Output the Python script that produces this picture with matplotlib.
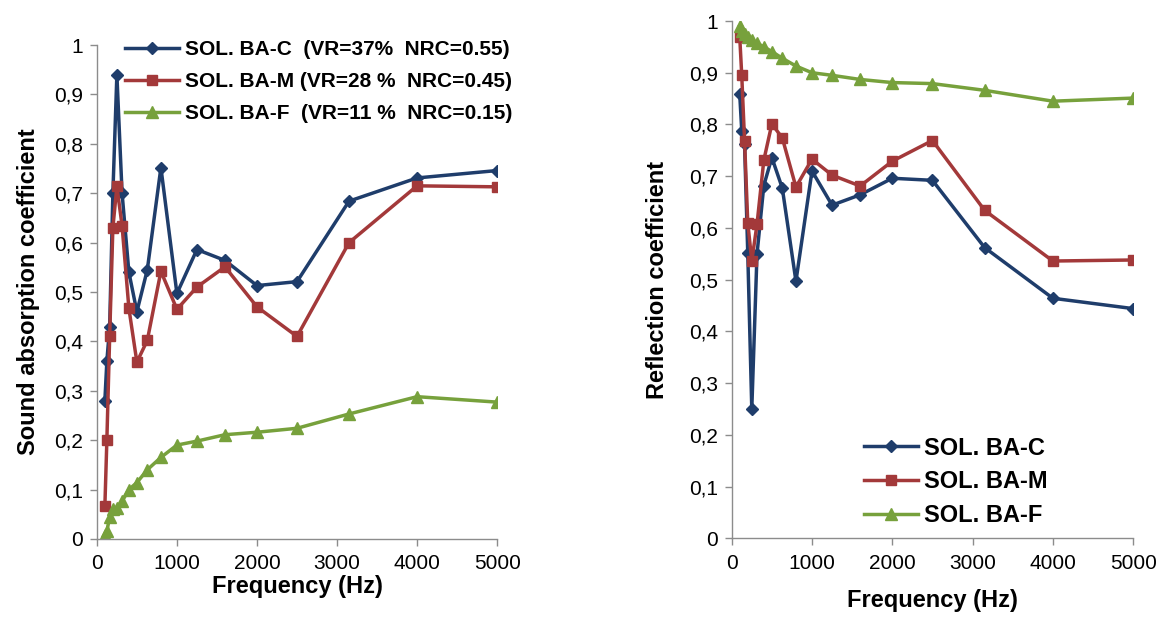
import matplotlib
matplotlib.use('Agg')
import matplotlib.pyplot as plt
from matplotlib.ticker import FuncFormatter

plt.rcParams['font.family'] = ['Liberation Sans', 'DejaVu Sans']

FREQS = [100, 125, 160, 200, 250, 315, 400, 500, 630, 800, 1000,
         1250, 1600, 2000, 2500, 3150, 4000, 5000]

# sound absorption coefficient
ABS_C = [0.28, 0.36, 0.43, 0.70, 0.94, 0.70, 0.54, 0.46, 0.545, 0.752, 0.497,
         0.586, 0.564, 0.513, 0.521, 0.684, 0.731, 0.746]
ABS_M = [0.066, 0.20, 0.41, 0.63, 0.714, 0.634, 0.467, 0.358, 0.402, 0.542, 0.465,
         0.51, 0.551, 0.47, 0.41, 0.60, 0.715, 0.713]
ABS_F = [0.008, 0.015, 0.045, 0.06, 0.063, 0.076, 0.10, 0.114, 0.14, 0.165, 0.19,
         0.198, 0.211, 0.216, 0.224, 0.253, 0.288, 0.277]

# reflection coefficient
REF_C = [0.858, 0.788, 0.762, 0.551, 0.25, 0.549, 0.682, 0.736, 0.677, 0.497, 0.71,
         0.644, 0.664, 0.696, 0.692, 0.562, 0.464, 0.444]
REF_M = [0.969, 0.895, 0.769, 0.61, 0.536, 0.607, 0.731, 0.801, 0.774, 0.679, 0.733,
         0.702, 0.681, 0.729, 0.769, 0.634, 0.536, 0.538]
REF_F = [0.99, 0.98, 0.975, 0.97, 0.964, 0.957, 0.95, 0.941, 0.928, 0.913, 0.90,
         0.895, 0.887, 0.881, 0.879, 0.866, 0.845, 0.851]

LABELS_ABS = ['SOL. BA-C  (VR=37%  NRC=0.55)',
              'SOL. BA-M (VR=28 %  NRC=0.45)',
              'SOL. BA-F  (VR=11 %  NRC=0.15)']
LABELS_REF = ['SOL. BA-C', 'SOL. BA-M', 'SOL. BA-F']

COLORS = ['#1f3d6b', '#a3393a', '#77a13c']
MARKERS = ['D', 's', '^']
MSIZES = [6.5, 7, 8.5]


def comma_fmt(v, _pos):
    if abs(v) < 1e-9:
        return '0'
    if abs(v - 1) < 1e-9:
        return '1'
    return f'{v:.1f}'.replace('.', ',')


def style_axes(ax, ylabel, xpad, ypad):
    ax.set_xlim(0, 5000)
    ax.set_ylim(0, 1)
    ax.set_xticks(range(0, 5001, 1000))
    ax.set_yticks([i / 10 for i in range(11)])
    ax.yaxis.set_major_formatter(FuncFormatter(comma_fmt))
    for side in ('top', 'right'):
        ax.spines[side].set_visible(False)
    for side in ('left', 'bottom'):
        ax.spines[side].set_color('#8c8c8c')
        ax.spines[side].set_linewidth(1.0)
    ax.tick_params(axis='both', colors='#8c8c8c', labelcolor='black',
                   labelsize=15, length=5, width=1.0)
    ax.tick_params(axis='y', pad=5)
    ax.tick_params(axis='x', pad=6)
    ax.set_xlabel('Frequency (Hz)', fontsize=17, fontweight='bold', labelpad=xpad)
    ax.set_ylabel(ylabel, fontsize=17, fontweight='bold', labelpad=ypad)


fig = plt.figure(figsize=(11.67, 6.18), dpi=100)
ax1 = fig.add_axes([0.083, 0.128, 0.343, 0.799])
ax2 = fig.add_axes([0.627, 0.129, 0.344, 0.837])

for series, lab, c, m, ms in zip([ABS_C, ABS_M, ABS_F], LABELS_ABS, COLORS, MARKERS, MSIZES):
    ax1.plot(FREQS, series, color=c, marker=m, markersize=ms, linewidth=2.5, label=lab)
for series, lab, c, m, ms in zip([REF_C, REF_M, REF_F], LABELS_REF, COLORS, MARKERS, MSIZES):
    ax2.plot(FREQS, series, color=c, marker=m, markersize=ms, linewidth=2.5, label=lab)

style_axes(ax1, 'Sound absorption coefficient', 1, 10)
style_axes(ax2, 'Reflection coefficient', 12, 14)

ax1.legend(loc='upper left', bbox_to_anchor=(0.07, 1.01), frameon=False,
           prop={'size': 15, 'weight': 'bold'}, borderpad=0, borderaxespad=0,
           handlelength=2.6, handletextpad=0.3, labelspacing=0.62)
ax2.legend(loc='lower left', bbox_to_anchor=(0.33, 0.022), frameon=False,
           prop={'size': 17, 'weight': 'bold'}, borderpad=0, borderaxespad=0,
           handlelength=2.3, handletextpad=0.25, labelspacing=0.45)

fig.savefig('out.png', dpi=100)
